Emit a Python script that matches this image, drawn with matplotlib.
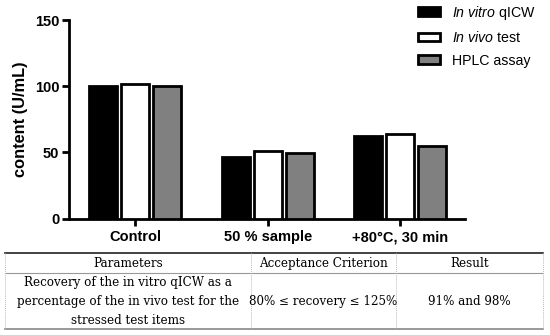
import matplotlib
matplotlib.use("Agg")
import matplotlib.pyplot as plt
import numpy as np

plt.rcParams['font.family'] = ['Liberation Sans', 'DejaVu Sans']
plt.rcParams['mathtext.fontset'] = 'custom'
plt.rcParams['mathtext.rm'] = 'Liberation Sans'
plt.rcParams['mathtext.it'] = 'Liberation Sans:italic'

categories = ["Control", "50 % sample", "+80°C, 30 min"]
series_names = [r"$\mathit{In\ vitro}$ qICW", r"$\mathit{In\ vivo}$ test", "HPLC assay"]
in_vitro = [100, 46.5, 62.6]
in_vivo = [102, 50.7, 63.6]
hplc = [100.5, 49.5, 54.8]
series = [in_vitro, in_vivo, hplc]
colors = ["#000000", "#ffffff", "#808080"]
y_ticks = [0, 50, 100, 150]

table_header = ["Parameters", "Acceptance Criterion", "Result"]
table_row = ["Recovery of the in vitro qICW as a\npercentage of the in vivo test for the\nstressed test items",
             "80% ≤ recovery ≤ 125%", "91% and 98%"]

W, H = 550, 335
fig = plt.figure(figsize=(5.5, 3.35), dpi=100)
ax = fig.add_axes([69 / W, 1 - 218.5 / H, (465 - 69) / W, (218.5 - 20) / H])

x = np.arange(len(categories))
step = 0.2415
width = 0.21
for i, (vals, c, name) in enumerate(zip(series, colors, series_names)):
    ax.bar(x + (i - 1) * step, vals, width, color=c, edgecolor="black",
           linewidth=2.0, label=name, zorder=3)

ax.set_xlim(-0.5, 2.49)
ax.set_ylim(0, 150)
ax.set_yticks(y_ticks)
ax.set_xticks(x)
ax.set_xticklabels(categories, fontsize=10.5, fontweight="bold")
for lab in ax.get_yticklabels():
    lab.set_fontsize(10.5)
    lab.set_fontweight("bold")
for s in ["top", "right"]:
    ax.spines[s].set_visible(False)
for s in ["left", "bottom"]:
    ax.spines[s].set_linewidth(2.0)
ax.tick_params(axis="both", length=5, width=2.0, pad=2)
ax.tick_params(axis="x", pad=3.5)
ax.set_ylabel("content (U/mL)", fontsize=11.8, fontweight="bold")
ax.yaxis.set_label_coords(-0.103, 0.5)

leg = ax.legend(loc="upper left", bbox_to_anchor=(418 / W, 1 - 3.5 / H),
                bbox_transform=fig.transFigure, frameon=False, fontsize=10.2,
                handlelength=1.55, handleheight=0.5, handletextpad=0.83,
                labelspacing=0.6, borderpad=0, borderaxespad=0)

# table
tab = fig.add_axes([0, 0, 1, 1])
tab.set_xlim(0, W)
tab.set_ylim(H, 0)
tab.axis("off")
col_edges = [5, 251, 396, 543]
row_edges = [253, 273, 329]
tab.plot([col_edges[0], col_edges[-1]], [row_edges[0]] * 2, color="#222222", lw=1.2)
tab.plot([col_edges[0], col_edges[-1]], [row_edges[1]] * 2, color="#999999", lw=0.8)
tab.plot([col_edges[0], col_edges[-1]], [row_edges[2]] * 2, color="#888888", lw=1.2)
for xe in col_edges:
    tab.plot([xe, xe], [row_edges[0], row_edges[2]], color="#bbbbbb", lw=0.7,
             linestyle=(0, (1, 1)))
serif = ["DejaVu Serif"]
for j in range(3):
    xc = (col_edges[j] + col_edges[j + 1]) / 2
    tab.text(xc, (row_edges[0] + row_edges[1]) / 2 + 0.5, table_header[j],
             ha="center", va="center", fontsize=8.6, family=serif, color="#000000")
    tab.text(xc, (row_edges[1] + row_edges[2]) / 2 + 0.5, table_row[j],
             ha="center", va="center", fontsize=8.6, family=serif, color="#000000",
             linespacing=1.58)

fig.savefig("out.png", dpi=100)
